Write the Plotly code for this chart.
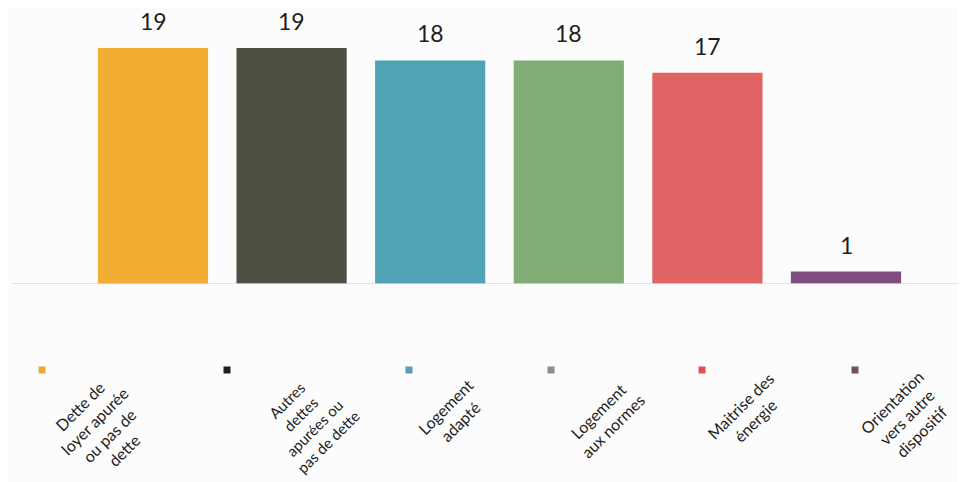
import plotly.graph_objects as go

categories = ["Dette de loyer apurée ou pas de dette",
              "Autres dettes apurées ou pas de dette",
              "Logement adapté",
              "Logement aux normes",
              "Maîtrise des énergie",
              "Orientation vers autre dispositif"]
values = [19, 19, 18, 18, 17, 1]
legend_labels = ["Dette de<br>loyer apurée<br>ou pas de<br>dette",
                 "Autres<br>dettes<br>apurées ou<br>pas de dette",
                 "Logement<br>adapté",
                 "Logement<br>aux normes",
                 "Maitrise des<br>énergie",
                 "Orientation<br>vers autre<br>dispositif"]

bar_colors = ["#F2AE32", "#4E4E42", "#4FA3B5", "#80AD76", "#E06464", "#7E4E80"]
legend_colors = ["#EBA935", "#1E1E1E", "#5C9CB8", "#8E8E8E", "#E15050", "#6A5560"]

W, H = 966, 482
FONT = "Lato"
OFF = 8  # page body margin compensation

# pixel layout (styling only), in screenshot pixels
sq_x = [42, 227, 409, 551, 702, 855]
sq_y = 370
lab_xy = [(101, 428), (307, 421), (453, 414), (605, 419), (748, 413), (906, 417)]
lab_size = [16, 15, 16, 16, 16, 16]

baseline_px = 284 - OFF
px_per_unit = 12.42
band = 138.6
first_center = 153 - OFF

def px(x):
    return (x - OFF) / W

def py(y):
    return 1 - (y - OFF) / H

fig = go.Figure()
fig.add_trace(go.Bar(
    x=categories, y=values,
    marker=dict(color=bar_colors, line=dict(width=0)),
    width=0.795,
    hoverinfo="x+y",
))

for c, v in zip(categories, values):
    fig.add_annotation(x=c, y=v, text=str(v), showarrow=False,
                       yanchor="bottom", yshift=11,
                       font=dict(family=FONT, size=23, color="#1E1E1E"))

dom_bottom = (H - baseline_px) / H
y_top = baseline_px / px_per_unit

fig.add_shape(type="line", xref="paper", yref="y", x0=px(12), x1=1.02, y0=0, y1=0,
              line=dict(color="#D8D8D8", width=1.5))

for i, lab in enumerate(legend_labels):
    s = 7
    fig.add_shape(type="rect", xref="paper", yref="paper",
                  x0=px(sq_x[i] - s / 2), x1=px(sq_x[i] + s / 2),
                  y0=py(sq_y + s / 2), y1=py(sq_y - s / 2),
                  fillcolor=legend_colors[i], line=dict(width=0))
    lx, ly = lab_xy[i]
    fig.add_annotation(xref="paper", yref="paper", x=px(lx), y=py(ly),
                       text=lab, showarrow=False, textangle=-45,
                       xanchor="center", yanchor="middle", align="center",
                       font=dict(family=FONT, size=lab_size[i], color="#1E1E1E"))

fig.update_layout(
    width=W, height=H,
    margin=dict(l=0, r=0, t=0, b=0),
    paper_bgcolor="#FCFCFC", plot_bgcolor="rgba(0,0,0,0)",
    showlegend=False,
    xaxis=dict(domain=[0, 1], range=[-first_center / band, (W - first_center) / band],
               showticklabels=False, showgrid=False, zeroline=False, showline=False,
               fixedrange=True),
    yaxis=dict(domain=[dom_bottom, 1], range=[0, y_top],
               showticklabels=False, showgrid=False, zeroline=False, showline=False,
               fixedrange=True),
)

fig.write_html("out.html")
